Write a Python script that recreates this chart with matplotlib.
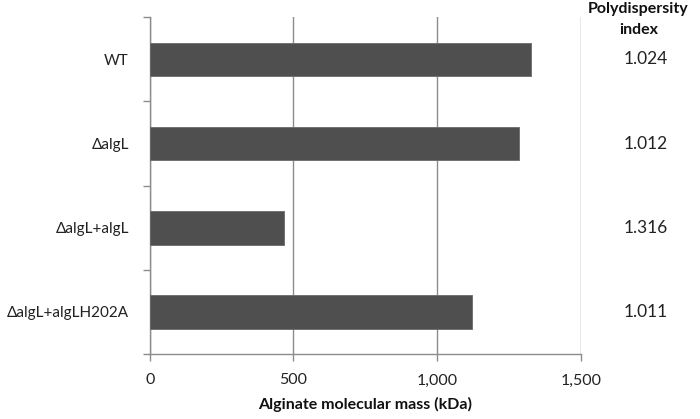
import matplotlib.pyplot as plt
import numpy as np

# strains (top to bottom), alginate molecular mass (kDa) and polydispersity index
strains = ["WT", "ΔalgL", "ΔalgL+algL", "ΔalgL+algLH202A"]
mass_kda = [1328, 1286, 466, 1121]
pdi = ["1.024", "1.012", "1.316", "1.011"]
xticks = [0, 500, 1000, 1500]
xticklabels = ["0", "500", "1,000", "1,500"]

plt.rcParams['font.family'] = ['Lato', 'DejaVu Sans']

fig = plt.figure(figsize=(7, 4.19), dpi=100)
ax = fig.add_axes([0.2139, 0.1551, 0.6157, 0.8036])

grey = "#8c8c8c"
pos = np.arange(len(strains))
ax.barh(pos, mass_kda, height=0.4, color="#4f4f4f", edgecolor="#6a6a6a",
        linewidth=0.6, zorder=3)

ax.set_xlim(0, 1500)
ax.set_ylim(len(strains) - 0.5, -0.5)

ax.set_xticks(xticks)
ax.set_xticklabels(xticklabels, fontsize=11.5, color="#222222")
ax.set_yticks(pos)
ax.set_yticklabels(strains, fontsize=11, color="#222222")
ax.set_yticks(np.arange(len(strains) + 1) - 0.5, minor=True)

ax.tick_params(axis='y', which='major', length=0, pad=15)
ax.tick_params(axis='y', which='minor', length=5, color=grey, width=1)
ax.tick_params(axis='x', length=5, color=grey, width=1, pad=9)

ax.grid(axis='x', color=grey, linewidth=1, zorder=0)
for s in ["top", "right"]:
    ax.spines[s].set_visible(False)
for s in ["left", "bottom"]:
    ax.spines[s].set_color(grey)
    ax.spines[s].set_linewidth(1)

ax.set_xlabel("Alginate molecular mass (kDa)", fontsize=11.5, fontweight='bold',
              color="#111111", labelpad=7)

# polydispersity index column
trans = ax.get_yaxis_transform()
ax.text(1.134, 1.045, "Polydispersity\nindex", transform=ax.transAxes,
        ha='center', va='top', fontsize=11.5, fontweight='bold', color="#111111",
        linespacing=1.65, clip_on=False, zorder=5,
        bbox=dict(facecolor='white', edgecolor='none', pad=3))
for i, v in enumerate(pdi):
    ax.text(1.15, i, v, transform=trans, ha='center', va='center',
            fontsize=12.5, color="#222222", clip_on=False)

plt.savefig("out.png", dpi=100)
